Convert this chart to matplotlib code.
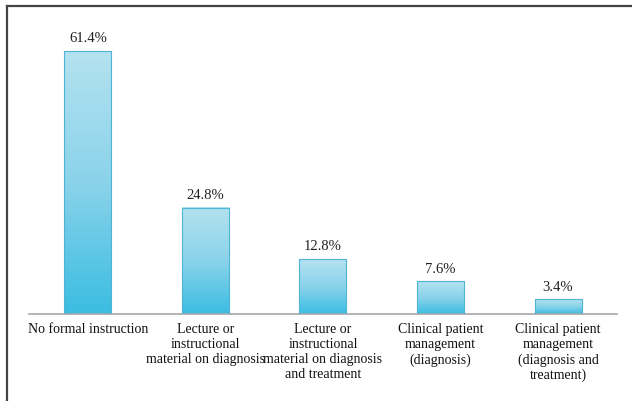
import numpy as np
import matplotlib
matplotlib.use("Agg")
import matplotlib.pyplot as plt
from matplotlib.colors import LinearSegmentedColormap
from matplotlib.lines import Line2D

# datos del gráfico
categorias = ["No formal instruction",
              "Lecture or\ninstructional\nmaterial on diagnosis",
              "Lecture or\ninstructional\nmaterial on diagnosis\nand treatment",
              "Clinical patient\nmanagement\n(diagnosis)",
              "Clinical patient\nmanagement\n(diagnosis and\ntreatment)"]
valores = [61.4, 24.8, 12.8, 7.6, 3.4]
etiquetas = ["61.4%", "24.8%", "12.8%", "7.6%", "3.4%"]

plt.rcParams['font.family'] = ['Liberation Serif', 'DejaVu Serif']

fig = plt.figure(figsize=(6.32, 4.02), dpi=100)
ax = fig.add_axes([0.046, 0.2164, 0.93, 0.745])

x = np.arange(len(valores))
barras = ax.bar(x, valores, width=0.4, color='none', edgecolor='#4fb3d3', linewidth=0.8, zorder=3)

# degradado vertical dentro de cada barra
cmap = LinearSegmentedColormap.from_list('azul', ['#3bbde2', '#8ad3ea', '#b4e2f0'])
grad = np.linspace(0, 1, 256).reshape(-1, 1)
for b in barras:
    x0 = b.get_x()
    ax.imshow(grad, cmap=cmap, aspect='auto', origin='lower',
              extent=(x0, x0 + b.get_width(), 0, b.get_height()), zorder=2)

for xi, v, t in zip(x, valores, etiquetas):
    ax.annotate(t, (xi, v), xytext=(0, 5), textcoords='offset points',
                ha='center', va='bottom', fontsize=10.5, color='#222222')

ax.set_xlim(-0.5, 4.5)
ax.set_ylim(0, 70)
ax.set_xticks(x)
ax.set_xticklabels(categorias, fontsize=10, linespacing=1.2, color='#111111')
ax.tick_params(axis='x', length=0, pad=6)
ax.set_yticks([])
for s in ['top', 'right', 'left']:
    ax.spines[s].set_visible(False)
ax.spines['bottom'].set_color('#a8a8a8')
ax.spines['bottom'].set_linewidth(1.2)

# marco exterior (solo arriba e izquierda)
fig.add_artist(Line2D([0.011, 1.0], [0.983, 0.983], transform=fig.transFigure, color='#444444', linewidth=1.6))
fig.add_artist(Line2D([0.011, 0.011], [0.0, 0.983], transform=fig.transFigure, color='#444444', linewidth=1.6))

fig.savefig('out.png', dpi=100)
